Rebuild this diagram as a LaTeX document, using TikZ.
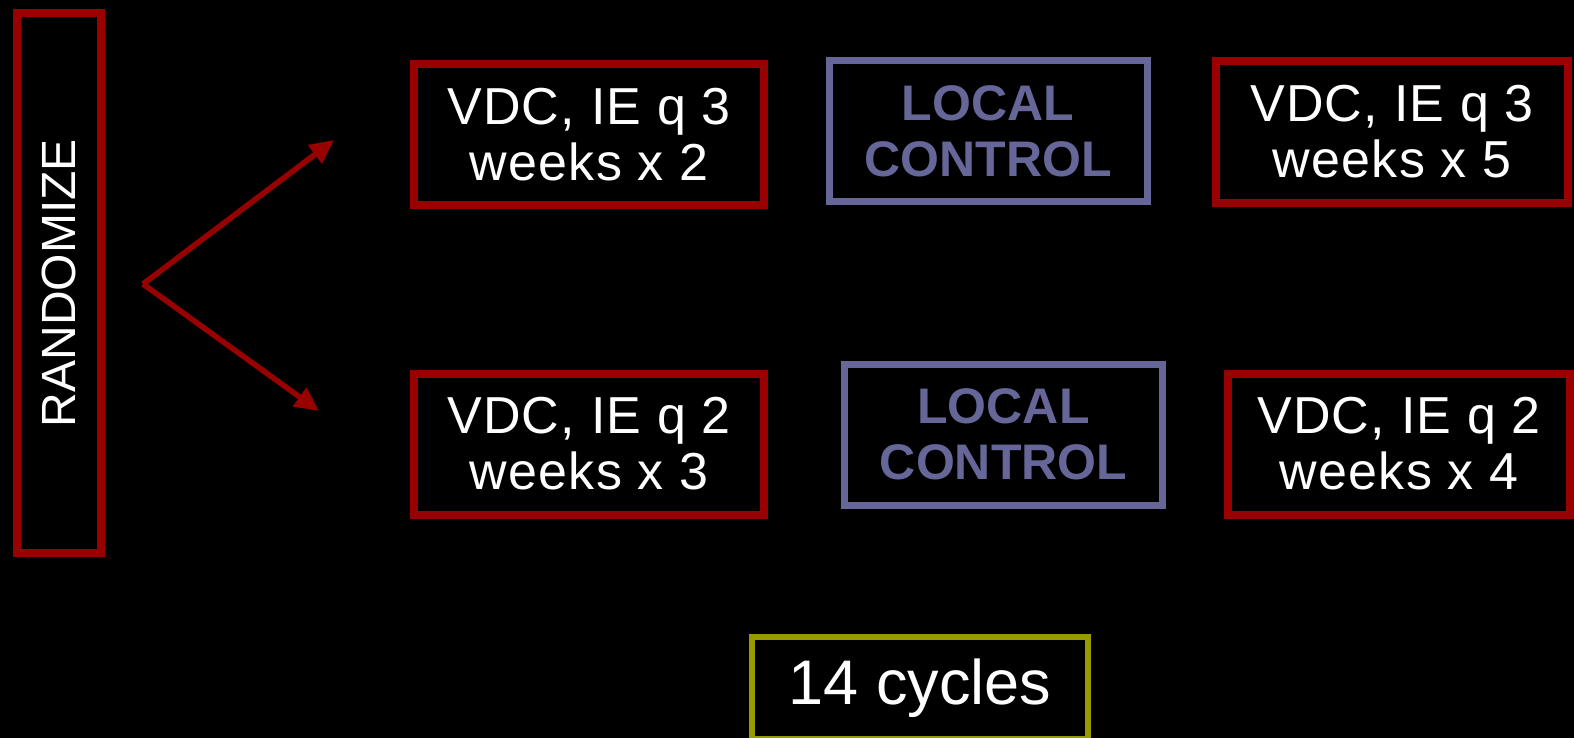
\documentclass[tikz,border=0pt]{standalone}
\usepackage{fontspec}
\setmainfont{Liberation Sans}
\newfontfamily\armfont[LetterSpace=2.5]{Liberation Sans}
\usetikzlibrary{arrows.meta}
\definecolor{armred}{HTML}{990000}
\definecolor{ctrlblue}{HTML}{666699}
\definecolor{cycolive}{HTML}{999900}
\tikzset{
  armbox/.style={draw=armred, line width=8pt, inner sep=0pt, text=white,
    align=center, font=\armfont\fontsize{52}{56}\selectfont},
  ctrlbox/.style={draw=ctrlblue, line width=7pt, inner sep=0pt, text=ctrlblue,
    align=center, font=\fontsize{50}{56}\selectfont\bfseries,
    minimum width=318pt, minimum height=141pt},
  armarrow/.style={draw=armred, line width=5.5pt,
    -{Triangle[length=24pt,width=22pt]}},
}
\begin{document}
\begin{tikzpicture}[x=1pt,y=-1pt]
\useasboundingbox[fill=black] (0,0) rectangle (1574,738);
% randomisation column
\node[armbox, rotate=90, minimum width=540pt, minimum height=84pt,
  font=\fontsize{48}{52}\selectfont] (rand) at (59,283) {RANDOMIZE};
% first arm
\node[armbox, minimum width=350pt, minimum height=141pt] (a1) at (589,134.5) {VDC, IE q 3\\weeks x 2};
\node[ctrlbox] (lc1) at (988,131.5) {LOCAL\\CONTROL};
\node[armbox, minimum width=352pt, minimum height=142pt] (a2) at (1392,132) {VDC, IE q 3\\weeks x 5};
% second arm
\node[armbox, minimum width=350pt, minimum height=141pt] (b1) at (589,444) {VDC, IE q 2\\weeks x 3};
\node[ctrlbox] (lc2) at (1003.5,434.5) {LOCAL\\CONTROL};
\node[armbox, minimum width=342pt, minimum height=141pt] (b2) at (1399,444) {VDC, IE q 2\\weeks x 4};
% total cycles
\node[draw=cycolive, line width=6pt, inner sep=0pt, text=white,
  font=\fontsize{63}{66}\selectfont, minimum width=336pt, minimum height=102pt]
  (cyc) at (920,688) {14 cycles};
% branching arrows
\coordinate (fork) at (143,284);
\coordinate (upend) at (334,140);
\coordinate (downend) at (319,411);
\draw[armarrow] (fork) -- (upend);
\draw[armarrow] (fork) -- (downend);
\end{tikzpicture}
\end{document}
